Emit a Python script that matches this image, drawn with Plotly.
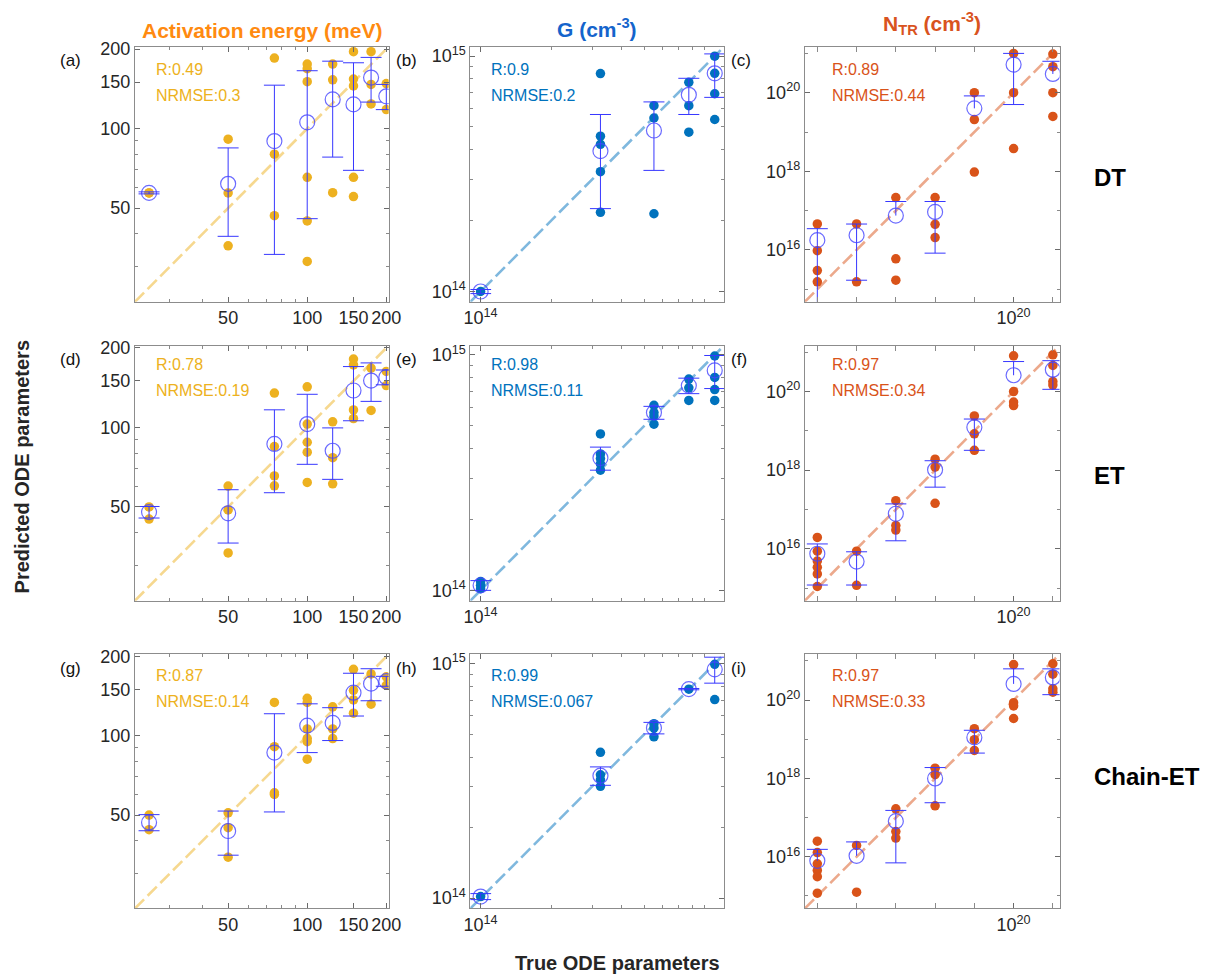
import plotly.graph_objects as go

W, H = 1225, 977
FONT = "Liberation Sans, Arial, Helvetica, sans-serif"

# ---------------- data ----------------
E_true = [25, 50, 75, 100, 125, 150, 175, 200]
G_true = [1.0e14, 3.25e14, 5.5e14, 7.75e14, 1.0e15]
N_true = [1e15, 1e16, 1e17, 1e18, 1e19, 1e20, 1e21]

# DT
DT_E_pts = [[57.1, 57.1], [91.2, 57.1, 36.0], [185, 80, 46.8],
            [175.5, 168.6, 150.5, 65.4, 44.7, 31.4], [175.5, 153, 57.2],
            [195.5, 154, 145, 65.4, 55.3], [195.5, 147, 124], [148, 118]]
DT_E_mean = [57.1, 61.8, 89.7, 105.6, 129, 123.5, 156, 132.5]
DT_E_up = [0.5, 22.7, 56.3, 60, 51, 54, 30, 14.5]
DT_E_dn = [0.5, 22.7, 56.3, 60, 51, 54, 30, 14.5]

DT_G_pts = [[1.0e14], [8.43e14, 4.57e14, 4.22e14, 3.23e14, 2.17e14],
            [6.16e14, 5.46e14, 2.14e14], [7.74e14, 6.16e14, 4.75e14],
            [1.0e15, 8.45e14, 6.92e14, 5.38e14]]
DT_G_mean = [1.0e14, 3.95e14, 4.83e14, 6.85e14, 8.45e14]
DT_G_up = [0.02e14, 1.7e14, 1.56e14, 1.2e14, 1.77e14]
DT_G_dn = [0.02e14, 1.7e14, 1.56e14, 1.2e14, 1.77e14]

DT_N_pts = [[4.6e16, 9.6e15, 3.0e15, 1.55e15], [4.6e16, 1.55e15],
            [2.15e17, 5.96e15, 1.71e15], [2.15e17, 4.5e16, 2.07e16],
            [1e20, 2.07e19, 9.6e17], [1e21, 1e20, 3.8e18],
            [9.6e20, 4.6e20, 1e20, 2.5e19]]
DT_N_mean = [1.78e16, 2.37e16, 7.5e16, 9.3e16, 4.0e19, 5.2e20, 3.0e20]
DT_N_up = [1.7e16, 2.2e16, 9.6e16, 7.8e16, 4.3e19, 4.8e20, 3.3e20]
DT_N_dn = [1.75e16, 2.2e16, None, 8.47e16, None, 4.7e20, None]

# ET
ET_E_pts = [[50, 45], [60, 48.7, 33.5], [135, 84.7, 65.5, 60.1],
            [142.5, 103, 87.9, 80.6, 61.9], [105, 76.8, 61.2],
            [181.5, 172.5, 116.5, 108], [167.7, 116], [163, 144]]
ET_E_mean = [47.8, 47.3, 86.6, 103, 81.6, 138, 150.5, 155]
ET_E_up = [2.4, 10.8, 30, 30.5, 18, 32, 25, 10]
ET_E_dn = [2.4, 10.8, 30, 30.5, 18, 32, 25, 10]

ET_G_pts = [[1.09e14, 1.05e14, 1.016e14], [4.62e14, 3.80e14, 3.63e14, 3.45e14, 3.24e14],
            [6.11e14, 5.69e14, 5.5e14, 5.08e14], [7.9e14, 7.25e14, 6.41e14],
            [9.9e14, 8.03e14, 7.13e14, 6.41e14]]
ET_G_mean = [1.05e14, 3.65e14, 5.69e14, 7.41e14, 8.6e14]
ET_G_up = [0.05e14, 0.41e14, 0.36e14, 0.56e14, 1.35e14]
ET_G_dn = [0.05e14, 0.41e14, 0.36e14, 0.56e14, 1.4e14]

ET_N_pts = [[1.95e16, 8.7e15, 4.9e15, 3.4e15, 2.3e15, 1.1e15], [8.7e15, 1.18e15],
            [1.68e17, 3.9e16, 3.0e16], [1.9e18, 1.2e18, 1.44e17],
            [2.4e19, 8.4e18, 3.2e18], [8.1e20, 1e20, 5.4e19, 4.4e19],
            [8.6e20, 4.6e20, 1.8e20, 1.46e20]]
ET_N_mean = [7.5e15, 4.75e15, 7.8e16, 1.02e18, 1.23e19, 2.6e20, 3.6e20]
ET_N_up = [5.8e15, 3.65e15, 6.1e16, 0.72e18, 0.77e19, 3.2e20, 2.5e20]
ET_N_dn = [6.3e15, 3.55e15, 6.2e16, 0.65e18, 0.91e19, None, 2.46e20]

# Chain-ET
CE_E_pts = [[50, 44], [51, 44.8, 34.6], [134, 91, 60.8, 59.9],
            [139, 134, 106.3, 97.7, 95, 81.6], [129, 106.3, 97.7],
            [179, 149, 137, 122], [172, 132], [167.7, 155.7]]
CE_E_mean = [46.9, 43.5, 86.4, 109.4, 112, 146, 158, 161.4]
CE_E_up = [3.3, 8.3, 35, 23, 16, 27, 22, 7]
CE_E_dn = [3.3, 8.3, 35, 23, 16, 27, 22, 7]

CE_G_pts = [[1.016e14], [4.19e14, 3.36e14, 3.2e14, 3.0e14],
            [5.55e14, 5.32e14, 4.88e14], [7.79e14], [9.94e14, 7.03e14]]
CE_G_mean = [1.016e14, 3.33e14, 5.32e14, 7.79e14, 9.46e14]
CE_G_up = [0.03e14, 0.3e14, 0.3e14, 0.05e14, 1.2e14]
CE_G_dn = [0.03e14, 0.3e14, 0.3e14, 0.05e14, 1.2e14]

CE_N_pts = [[2.5e16, 1.28e16, 6.6e15, 4.5e15, 3.1e15, 1.18e15], [1.95e16, 1.25e15],
            [1.68e17, 4.4e16, 3.0e16], [1.83e18, 1.26e18, 2.0e17],
            [1.87e19, 9.8e18, 5.2e18], [8.1e20, 8.6e19, 7.1e19, 3.4e19],
            [8.5e20, 4.6e20, 1.95e20, 1.6e20]]
CE_N_mean = [7.9e15, 1.06e16, 8.1e16, 1.0e18, 1.12e19, 2.6e20, 3.8e20]
CE_N_up = [7.6e15, 1.34e16, 7.2e16, 0.9e18, 0.58e19, 3.7e20, 2.5e20]
CE_N_dn = [None, None, 7.4e16, 0.76e18, 0.675e19, None, 2.42e20]

R_vals = [["0.49", "0.9", "0.89"], ["0.78", "0.98", "0.97"], ["0.87", "0.99", "0.97"]]
NRMSE_vals = [["0.3", "0.2", "0.44"], ["0.19", "0.11", "0.34"], ["0.14", "0.067", "0.33"]]
panel_letters = ["(a)", "(b)", "(c)", "(d)", "(e)", "(f)", "(g)", "(h)", "(i)"]
row_names = ["DT", "ET", "Chain-ET"]
col_titles = ["Activation energy (meV)", "G (cm<sup>-3</sup>)", "N<sub>TR</sub> (cm<sup>-3</sup>)"]

# tick labels
ytick_vals = [[50, 100, 150, 200], [1e14, 1e15], [1e16, 1e18, 1e20]]
ytick_text = [["50", "100", "150", "200"], ["10<sup>14</sup>", "10<sup>15</sup>"],
              ["10<sup>16</sup>", "10<sup>18</sup>", "10<sup>20</sup>"]]
xtick_vals = [[50, 100, 150, 200], [1e14], [1e20]]
xtick_text = [["50", "100", "150", "200"], ["10<sup>14</sup>"], ["10<sup>20</sup>"]]

# ---------------- styling / layout ----------------
dot_colors = ["#EDB120", "#0072BD", "#D95319"]
line_colors = ["rgba(237,177,32,0.5)", "rgba(0,114,189,0.5)", "rgba(217,83,25,0.5)"]
title_colors = ["#FF8A10", "#1464CC", "#D9531E"]
MEAN_C = "rgba(70,70,255,0.8)"
BAR_C = "#3737ff"

col_px = [(130, 388), (471, 729), (811, 1070)]
row_px = [(40, 297), (341, 598), (652, 908)]
col_range = [[1.344, 2.310], [13.956, 15.04], [14.68, 21.17]]

ytick_minor = [[30, 40, 60, 70, 80, 90],
               [2e14, 3e14, 4e14, 5e14, 6e14, 7e14, 8e14, 9e14],
               [1e15, 1e17, 1e19, 1e21]]
xtick_minor = [[30, 40, 60, 70, 80, 90],
               [2e14, 3e14, 4e14, 5e14, 6e14, 7e14, 8e14, 9e14],
               [1e15, 1e16, 1e17, 1e18, 1e19, 1e21]]

data = [
    [(E_true, DT_E_pts, DT_E_mean, DT_E_up, DT_E_dn),
     (G_true, DT_G_pts, DT_G_mean, DT_G_up, DT_G_dn),
     (N_true, DT_N_pts, DT_N_mean, DT_N_up, DT_N_dn)],
    [(E_true, ET_E_pts, ET_E_mean, ET_E_up, ET_E_dn),
     (G_true, ET_G_pts, ET_G_mean, ET_G_up, ET_G_dn),
     (N_true, ET_N_pts, ET_N_mean, ET_N_up, ET_N_dn)],
    [(E_true, CE_E_pts, CE_E_mean, CE_E_up, CE_E_dn),
     (G_true, CE_G_pts, CE_G_mean, CE_G_up, CE_G_dn),
     (N_true, CE_N_pts, CE_N_mean, CE_N_up, CE_N_dn)],
]


def px(x):
    return x / W


def py(y):
    return 1 - y / H


fig = go.Figure()
annotations = []
layout_axes = {}

for r in range(3):
    for c in range(3):
        k = r * 3 + c + 1
        xa = "x" if k == 1 else f"x{k}"
        ya = "y" if k == 1 else f"y{k}"
        true, pts, mean, up, dn = data[r][c]
        lo, hi = col_range[c]

        # diagonal y = x over the axis range
        fig.add_trace(go.Scatter(x=[10 ** lo, 10 ** hi], y=[10 ** lo, 10 ** hi], mode="lines",
                                 line=dict(color=line_colors[c], width=2.6, dash="13px,5px"),
                                 xaxis=xa, yaxis=ya, showlegend=False, hoverinfo="skip"))
        # individual predictions
        xs, ys = [], []
        for t, group in zip(true, pts):
            for v in group:
                xs.append(t)
                ys.append(v)
        fig.add_trace(go.Scatter(x=xs, y=ys, mode="markers",
                                 marker=dict(size=9.5, color=dot_colors[c]),
                                 xaxis=xa, yaxis=ya, showlegend=False))
        # mean with error bars (vertical part)
        dn0 = [d if d is not None else 0 for d in dn]
        fig.add_trace(go.Scatter(x=true, y=mean, mode="markers",
                                 marker=dict(symbol="circle-open", size=15,
                                             line=dict(width=1.2, color=MEAN_C), color=MEAN_C),
                                 error_y=dict(type="data", symmetric=False, array=up, arrayminus=dn0,
                                              color=BAR_C, thickness=1, width=0),
                                 xaxis=xa, yaxis=ya, showlegend=False))
        # caps
        cx, cy = [], []
        for t, m, u, d in zip(true, mean, up, dn):
            cx.append(t)
            cy.append(m + u)
            if d is not None:
                cx.append(t)
                cy.append(m - d)
        fig.add_trace(go.Scatter(x=cx, y=cy, mode="markers",
                                 marker=dict(symbol="line-ew", size=15,
                                             line=dict(width=1, color=BAR_C)),
                                 xaxis=xa, yaxis=ya, showlegend=False, hoverinfo="skip"))

        x0, x1 = col_px[c]
        y0, y1 = row_px[r]
        common = dict(type="log", range=[lo, hi], showgrid=False, zeroline=False,
                      showline=True, linecolor="#8c8c8c", linewidth=1, mirror="ticks",
                      ticks="inside", ticklen=5, tickwidth=1, tickcolor="#6a6a6a",
                      tickfont=dict(size=18, color="#262626", family=FONT), tickangle=0,
                      fixedrange=True)
        minor_common = dict(ticks="inside", ticklen=3, tickwidth=1, tickcolor="#8a8a8a",
                            tickmode="array")
        layout_axes["xaxis" if k == 1 else f"xaxis{k}"] = dict(
            common, domain=[px(x0), px(x1)], anchor=ya, tickmode="array",
            tickvals=xtick_vals[c], ticktext=xtick_text[c],
            minor=dict(minor_common, tickvals=xtick_minor[c],
                       ticklen=5 if c == 2 else 3))
        layout_axes["yaxis" if k == 1 else f"yaxis{k}"] = dict(
            common, domain=[py(y1), py(y0)], anchor=xa, tickmode="array",
            tickvals=ytick_vals[c], ticktext=ytick_text[c],
            minor=dict(minor_common, tickvals=ytick_minor[c]))

        # R / NRMSE text
        tx = x0 + (26 if c == 2 else 19)
        dy = [(23, 49), (19, 45), (21, 48)][r]
        annotations.append(dict(x=px(tx), y=py(y0 + dy[0]), xref="paper", yref="paper",
                                text="R:" + R_vals[r][c], showarrow=False, xanchor="left",
                                yanchor="middle", font=dict(size=16, color=dot_colors[c], family=FONT)))
        annotations.append(dict(x=px(tx), y=py(y0 + dy[1]), xref="paper", yref="paper",
                                text="NRMSE:" + NRMSE_vals[r][c], showarrow=False, xanchor="left",
                                yanchor="middle", font=dict(size=16, color=dot_colors[c], family=FONT)))
        # panel letter
        lx = [52, 393, 734][c]
        annotations.append(dict(x=px(lx), y=py(y0 + 14), xref="paper", yref="paper",
                                text=panel_letters[k - 1], showarrow=False, xanchor="left",
                                yanchor="middle", font=dict(size=17, color="#111111", family=FONT)))

# column titles
title_y = [24, 21, 17]
for c in range(3):
    x0, x1 = col_px[c]
    annotations.append(dict(x=px((x0 + x1) / 2), y=py(title_y[c]), xref="paper", yref="paper",
                            text="<b>" + col_titles[c] + "</b>", showarrow=False, xanchor="center",
                            yanchor="middle", font=dict(size=21, color=title_colors[c], family=FONT)))
# row labels
row_label_y = [172, 472, 775]
for r in range(3):
    annotations.append(dict(x=px(1103), y=py(row_label_y[r]), xref="paper", yref="paper",
                            text="<b>" + row_names[r] + "</b>", showarrow=False, xanchor="left",
                            yanchor="middle", font=dict(size=24, color="#000000", family=FONT)))
# axis titles
annotations.append(dict(x=px(15), y=py(463), xref="paper", yref="paper",
                        text="<b>Predicted ODE parameters</b>", showarrow=False, textangle=-90,
                        xanchor="center", yanchor="middle",
                        font=dict(size=20, color="#262626", family=FONT)))
annotations.append(dict(x=px(621), y=py(963), xref="paper", yref="paper",
                        text="<b>True ODE parameters</b>", showarrow=False,
                        xanchor="center", yanchor="middle",
                        font=dict(size=20, color="#262626", family=FONT)))

fig.update_layout(width=W, height=H, margin=dict(l=0, r=0, t=0, b=0),
                  paper_bgcolor="white", plot_bgcolor="white",
                  font=dict(family=FONT), annotations=annotations, **layout_axes)

fig.write_html("out.html", config={"displayModeBar": False, "staticPlot": True},
               post_script="document.body.style.margin='0';document.body.style.overflow='hidden';")
